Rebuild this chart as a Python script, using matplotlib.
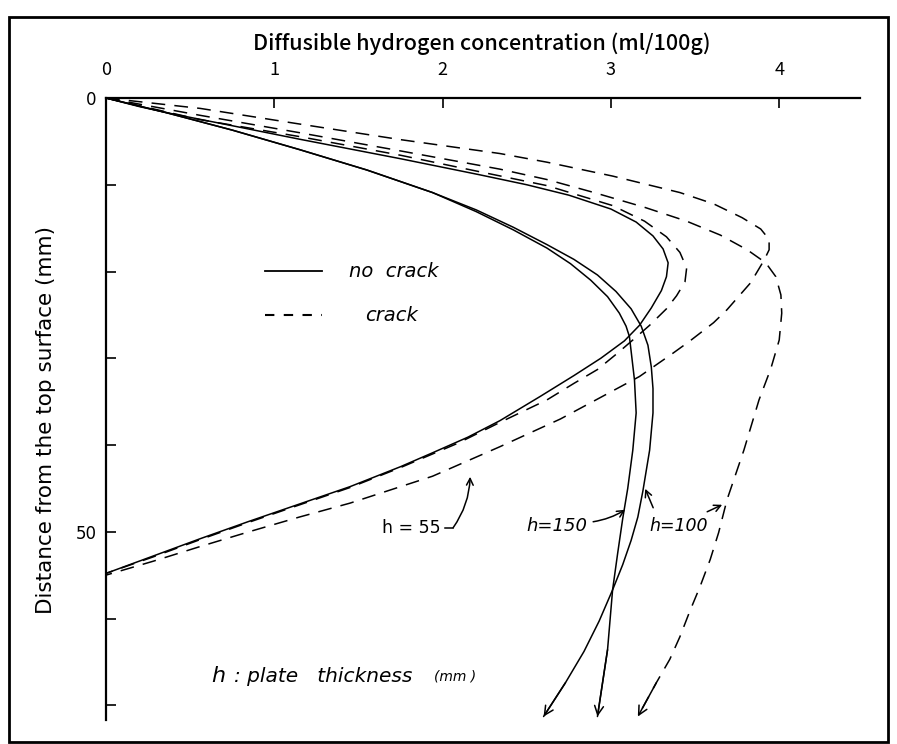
import matplotlib
matplotlib.use("Agg")
import matplotlib.pyplot as plt
from matplotlib.patches import Rectangle

# ---------------- data (x: hydrogen ml/100g, y: depth mm) ----------------
# no crack (solid)
nc55_x = [0, 0.2, 0.4, 0.7, 1.15, 1.75, 2.22, 2.5, 2.75, 3.0, 3.15, 3.25, 3.31, 3.34, 3.33,
          3.30, 3.24, 3.17, 3.08, 2.94, 2.78, 2.58, 2.34, 2.15, 1.94, 1.75, 1.45, 1.15, 0.85,
          0.56, 0.28, 0]
nc55_y = [0, 1.0, 1.85, 3.0, 4.75, 7.0, 8.85, 10.0, 11.2, 12.8, 14.3, 15.9, 17.4, 19.0, 20.6,
          22.2, 24.2, 26.2, 28.0, 30.0, 32.0, 34.4, 37.2, 39.1, 40.9, 42.5, 44.8, 46.8, 48.8,
          50.8, 52.8, 54.8]

nc100_x = [0, 0.36, 0.75, 1.15, 1.55, 1.94, 2.2, 2.42, 2.62, 2.78, 2.92, 3.03, 3.12, 3.18, 3.22,
           3.24, 3.25, 3.25, 3.23, 3.19, 3.16, 3.12, 3.07, 3.01, 2.93, 2.84, 2.73, 2.60]
nc100_y = [0, 1.7, 3.7, 5.95, 8.3, 10.9, 12.9, 14.9, 16.9, 18.6, 20.4, 22.3, 24.3, 26.3, 28.5,
           31.0, 33.5, 36.3, 40.6, 45.3, 48.3, 51.0, 53.8, 56.7, 60.3, 63.8, 67.4, 71.3]

nc150_x = [0, 0.36, 0.75, 1.15, 1.55, 1.94, 2.2, 2.42, 2.62, 2.76, 2.88, 2.98, 3.05, 3.09, 3.11,
           3.14, 3.15, 3.13, 3.10, 3.07, 3.04, 3.01, 2.98, 2.92]
nc150_y = [0, 1.7, 3.7, 5.95, 8.3, 10.9, 13.1, 15.2, 17.3, 19.1, 21.0, 22.9, 24.8, 26.3, 27.5,
           32.5, 36.3, 40.6, 45.0, 48.5, 52.5, 56.7, 63.6, 71.3]

# crack (dashed)
cr55_x = [0, 0.56, 1.15, 1.75, 2.34, 2.62, 3.01, 3.41, 3.61, 3.78, 3.89, 3.94, 3.94, 3.91, 3.83,
          3.69, 3.61, 3.47, 3.37, 3.17, 2.94, 2.70, 2.34, 1.94, 1.75, 1.45, 1.15, 0.85, 0.56,
          0.28, 0]
cr55_y = [0, 1.2, 3.0, 4.8, 6.4, 7.4, 9.0, 10.9, 12.2, 13.8, 15.1, 16.3, 17.5, 18.7, 21.3,
          24.4, 25.9, 28.0, 29.4, 32.1, 34.5, 37.0, 40.2, 43.6, 44.8, 46.7, 48.3, 50.0, 51.7,
          53.4, 55.0]

cr100_x = [0, 0.56, 1.15, 1.75, 2.34, 2.62, 2.9, 3.2, 3.45, 3.65, 3.81, 3.92, 3.98, 4.01, 4.015,
           4.0, 3.95, 3.88, 3.79, 3.69, 3.64, 3.59, 3.53, 3.47, 3.41, 3.35, 3.27, 3.16]
cr100_y = [0, 2.0, 4.0, 6.1, 8.2, 9.4, 10.9, 12.6, 14.2, 15.8, 17.5, 19.0, 20.6, 22.7, 24.8,
           27.9, 31.2, 34.8, 40.6, 46.3, 50.1, 53.2, 56.3, 59.1, 62.1, 64.7, 67.4, 71.3]

cr55b_x = [0, 0.56, 1.15, 1.75, 2.22, 2.62, 3.01, 3.20, 3.33, 3.41, 3.45, 3.44, 3.39, 3.33, 3.23,
           3.13, 3.04, 2.92, 2.78, 2.62, 2.34, 2.09, 1.75, 1.45, 1.15, 0.85, 0.56, 0.28, 0]
cr55b_y = [0, 2.5, 4.45, 6.6, 8.5, 10.1, 12.4, 14.2, 16.0, 17.8, 19.6, 21.2, 22.8, 24.3, 26.2,
           27.9, 29.4, 31.3, 32.9, 34.8, 37.4, 39.8, 42.6, 44.9, 46.9, 48.9, 50.9, 52.9, 54.8]

x_ticks = [0, 1, 2, 3, 4]
y_ticks = [0, 10, 20, 30, 40, 50, 60, 70]
y_ticklabels = ["0", "", "", "", "", "50", "", ""]

W, H = 897, 744
fig = plt.figure(figsize=(W / 100, H / 100), dpi=100)

# axes placement in pixels
L, R, T, B = 106, 860, 98, 720
ax = fig.add_axes([L / W, 1 - B / H, (R - L) / W, (B - T) / H])
ax.set_xlim(0, 4.48)
ax.set_ylim(71.7, 0)

for s in ["right", "bottom"]:
    ax.spines[s].set_visible(False)
for s in ["top", "left"]:
    ax.spines[s].set_linewidth(1.6)

cond = ["Noto Sans CJK JP", "DejaVu Sans"]

ax.xaxis.tick_top()
ax.set_xticks(x_ticks)
ax.set_xticklabels([str(t) for t in x_ticks], fontfamily=cond, fontsize=13)
ax.tick_params(axis="x", direction="in", length=7, width=1.2, pad=14)
ax.set_yticks(y_ticks)
ax.set_yticklabels(y_ticklabels, fontfamily="DejaVu Sans", fontsize=12)
ax.tick_params(axis="y", direction="in", length=7, width=1.2, pad=7)

lw = 1.1
dash = (0, (9, 6))
kw = dict(color="black", lw=lw, clip_on=False, solid_capstyle="round", solid_joinstyle="round")

ax.plot(nc55_x, nc55_y, "-", **kw)
ax.plot(nc100_x, nc100_y, "-", **kw)
ax.plot(nc150_x, nc150_y, "-", **kw)
ax.plot(cr55_x, cr55_y, linestyle=dash, color="black", lw=lw, clip_on=False)
ax.plot(cr100_x, cr100_y, linestyle=dash, color="black", lw=lw, clip_on=False)
ax.plot(cr55b_x, cr55b_y, linestyle=dash, color="black", lw=lw, clip_on=False)

# arrow heads at the ends of the truncated curves
for xs, ys in [(nc100_x, nc100_y), (nc150_x, nc150_y), (cr100_x, cr100_y)]:
    ax.annotate("", xy=(xs[-1], ys[-1]), xytext=(xs[-2], ys[-2]),
                arrowprops=dict(arrowstyle="->", lw=lw, color="black",
                                mutation_scale=16, shrinkA=0, shrinkB=0),
                annotation_clip=False)

def px2d(px, py):
    return ((px - L) / 168.25, (py - T) / 8.68)

# legend
x0, y0 = px2d(265, 271)
x1, _ = px2d(322, 271)
ax.plot([x0, x1], [y0, y0], "-", color="black", lw=1.3)
x0, y1 = px2d(265, 315)
x1, _ = px2d(322, 315)
ax.plot([x0, x1], [y1, y1], linestyle=(0, (4.5, 4.5)), color="black", lw=1.5)
ital = dict(fontfamily="DejaVu Sans", style="italic", color="black")
tx, ty = px2d(349, 272)
ax.text(tx, ty, "no  crack", fontsize=14, va="center", ha="left", **ital)
tx, ty = px2d(365, 316)
ax.text(tx, ty, "crack", fontsize=14, va="center", ha="left", **ital)

# h labels
tx, ty = px2d(382, 528)
ax.text(tx, ty, "h = 55", fontsize=12.5, va="center", ha="left", fontfamily="DejaVu Sans")
p1 = px2d(445, 528); p2 = px2d(453, 528); p3 = px2d(470, 477)
ax.plot([p1[0], p2[0]], [p1[1], p2[1]], color="black", lw=lw)
ax.annotate("", xy=p3, xytext=p2,
            arrowprops=dict(arrowstyle="->", lw=lw, color="black", mutation_scale=12,
                            shrinkA=0, shrinkB=0, connectionstyle="arc3,rad=0.15"))

tx, ty = px2d(526, 526)
ax.text(tx, ty, "h=150", fontsize=13, va="center", ha="left", **ital)
ax.annotate("", xy=px2d(625, 510), xytext=px2d(593, 522),
            arrowprops=dict(arrowstyle="->", lw=lw, color="black", mutation_scale=12,
                            shrinkA=0, shrinkB=0, connectionstyle="arc3,rad=0.1"))
tx, ty = px2d(649, 526)
ax.text(tx, ty, "h=100", fontsize=12.5, va="center", ha="left", **ital)
ax.annotate("", xy=px2d(645, 489), xytext=px2d(653, 508),
            arrowprops=dict(arrowstyle="->", lw=lw, color="black", mutation_scale=12,
                            shrinkA=0, shrinkB=0))
ax.annotate("", xy=px2d(722, 505), xytext=px2d(707, 512),
            arrowprops=dict(arrowstyle="->", lw=lw, color="black", mutation_scale=12,
                            shrinkA=0, shrinkB=0))

# plate thickness note
tx, ty = px2d(211, 676)
ax.text(tx, ty, "h", fontsize=16, va="center", ha="left", **ital)
tx, ty = px2d(234, 677)
ax.text(tx, ty, ": plate   thickness", fontsize=14.5, va="center", ha="left", **ital)
tx, ty = px2d(434, 677)
ax.text(tx, ty, "(mm )", fontsize=10, va="center", ha="left", **ital)

# axis titles, fitted to reference widths
renderer = fig.canvas.get_renderer()
xl = fig.text(482 / W, 1 - 44 / H, "Diffusible hydrogen concentration (ml/100g)",
              ha="center", va="center", fontfamily=cond, fontweight="medium", fontsize=14)
bb = xl.get_window_extent(renderer)
xl.set_fontsize(14 * 459 / bb.width)

yl = fig.text(46 / W, 1 - 420 / H, "Distance from the top surface (mm)",
              ha="center", va="center", rotation=90, fontfamily="DejaVu Sans", fontsize=14)
bb = yl.get_window_extent(renderer)
yl.set_fontsize(min(15.5, 14 * 472 / bb.height))

# outer frame
fig.add_artist(Rectangle((9 / W, 1 - 742 / H), (888 - 9) / W, (742 - 17) / H,
                         transform=fig.transFigure, fill=False, lw=2.0, color="black"))

fig.savefig("out.png", dpi=100, facecolor="white")
